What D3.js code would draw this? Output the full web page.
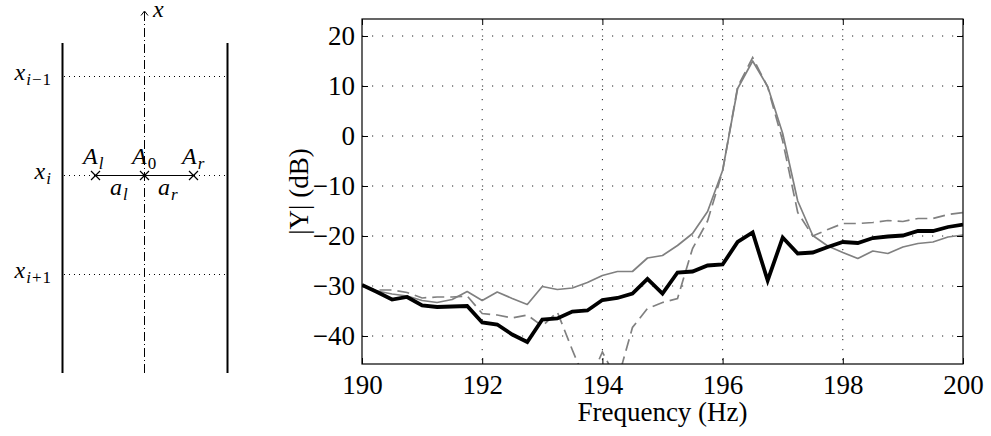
<!DOCTYPE html>
<html><head><meta charset="utf-8">
<script src="https://cdn.jsdelivr.net/npm/d3@7"></script>
<style>body{margin:0;background:#fff}svg{display:block}</style>
</head><body>
<svg id="c" width="991" height="436"></svg>
<script>
const freq = [190,190.25,190.5,190.75,191,191.25,191.5,191.75,192,192.25,192.5,192.75,193,193.25,193.5,193.75,194,194.25,194.5,194.75,195,195.25,195.5,195.75,196,196.25,196.5,196.75,197,197.25,197.5,197.75,198,198.25,198.5,198.75,199,199.25,199.5,199.75,200];
const seriesBlack = [-29.8,-31.2,-32.7,-32.2,-33.9,-34.2,-34.1,-34.0,-37.3,-37.7,-39.7,-41.2,-36.7,-36.5,-35.1,-34.9,-32.8,-32.4,-31.5,-28.6,-31.5,-27.3,-27.1,-25.9,-25.7,-21.2,-19.3,-28.9,-20.3,-23.5,-23.3,-22.2,-21.2,-21.4,-20.4,-20.1,-19.9,-19.0,-19.0,-18.2,-17.7];
const seriesGray = [-30.0,-31.0,-31.6,-32.0,-32.9,-33.3,-32.7,-31.1,-32.9,-31.2,-32.5,-33.7,-30.1,-30.7,-30.4,-29.3,-27.9,-27.1,-27.1,-24.4,-23.9,-21.9,-19.5,-15.1,-6.9,9.5,15.0,9.9,0.5,-13.0,-19.9,-22.0,-23.3,-24.5,-23.0,-23.5,-22.2,-21.5,-21.2,-20.2,-19.8];
const seriesDashed = [-30.0,-30.8,-30.8,-31.3,-32.4,-32.2,-32.2,-32.0,-35.5,-35.8,-36.4,-35.8,-38.0,-35.2,-42.8,-50,-43.2,-49,-38.3,-34.5,-33.3,-32.5,-22.5,-17,-7,9.8,15.7,9.8,-1,-15.3,-20,-18.7,-17.5,-17.5,-17.3,-16.9,-17.1,-16.5,-16.5,-15.7,-15.3];
const xTicks = [190,192,194,196,198,200];
const yTicks = [-40,-30,-20,-10,0,10,20];
const xLabel = "Frequency (Hz)";
const yLabel = "|Y| (dB)";

const svg = d3.select("#c");
const L = 362, R = 963, T = 19, B = 364;
const x = d3.scaleLinear().domain([190,200]).range([L,R]);
const y = d3.scaleLinear().domain([-45.6,23.4]).range([B,T]);
const font = "Liberation Serif";

// grid
const g = svg.append("g");
g.selectAll(".gx").data(xTicks.filter(d=>d>190&&d<200)).join("line")
  .attr("x1",d=>x(d)).attr("x2",d=>x(d)).attr("y1",T).attr("y2",B)
  .attr("stroke","#222").attr("stroke-width",1).attr("stroke-dasharray","1.2,8.8");
g.selectAll(".gy").data(yTicks).join("line")
  .attr("y1",d=>y(d)).attr("y2",d=>y(d)).attr("x1",L).attr("x2",R)
  .attr("stroke","#222").attr("stroke-width",1).attr("stroke-dasharray","1.2,8.8");

// clip
svg.append("clipPath").attr("id","clp").append("rect").attr("x",L).attr("y",T).attr("width",R-L).attr("height",B-T);
const line = d3.line().x((d,i)=>x(freq[i])).y(d=>y(d));
const pl = svg.append("g").attr("clip-path","url(#clp)");
pl.append("path").datum(seriesGray).attr("d",line).attr("fill","none").attr("stroke","#808080").attr("stroke-width",1.7).attr("stroke-linejoin","round");
pl.append("path").datum(seriesDashed).attr("d",line).attr("fill","none").attr("stroke","#808080").attr("stroke-width",1.7).attr("stroke-dasharray","12,6");
pl.append("path").datum(seriesBlack).attr("d",line).attr("fill","none").attr("stroke","#000").attr("stroke-width",3.8).attr("stroke-linejoin","miter");

// axes
const tl = 6;
const axB = svg.append("g").attr("transform",`translate(0,${B})`).call(d3.axisBottom(x).tickValues(xTicks).tickSize(-tl).tickPadding(13).tickFormat(d3.format("d")));
const axT = svg.append("g").attr("transform",`translate(0,${T})`).call(d3.axisTop(x).tickValues(xTicks).tickSize(-tl).tickFormat(""));
const axL = svg.append("g").attr("transform",`translate(${L},0)`).call(d3.axisLeft(y).tickValues(yTicks).tickSize(-tl).tickPadding(7).tickFormat(d=>d<0?"\u2212"+Math.abs(d):d));
const axR = svg.append("g").attr("transform",`translate(${R},0)`).call(d3.axisRight(y).tickValues(yTicks).tickSize(-tl).tickFormat(""));
[axB,axT,axL,axR].forEach(a=>{
  a.attr("font-family",font).attr("font-size",27);
  a.select(".domain").remove();
  a.selectAll("line").attr("stroke","#000").attr("stroke-width",1);
  a.selectAll("text").attr("font-family",font).attr("font-size",27).attr("fill","#000");
});
axB.selectAll("text").attr("dy",null).attr("y",30);
svg.append("rect").attr("x",L).attr("y",T).attr("width",R-L).attr("height",B-T).attr("fill","none").attr("stroke","#000").attr("stroke-width",1.2);

svg.append("text").attr("x",(L+R)/2).attr("y",421).attr("text-anchor","middle")
  .attr("font-family",font).attr("font-size",27).text(xLabel);
svg.append("text").attr("transform",`translate(308,${(T+B)/2}) rotate(-90)`).attr("text-anchor","middle")
  .attr("font-family",font).attr("font-size",27).text(yLabel);

// schematic
const s = svg.append("g");
const mf = font;
s.append("line").attr("x1",62.5).attr("x2",62.5).attr("y1",43).attr("y2",373).attr("stroke","#000").attr("stroke-width",2);
s.append("line").attr("x1",227.5).attr("x2",227.5).attr("y1",43).attr("y2",373).attr("stroke","#000").attr("stroke-width",2);
s.append("line").attr("x1",144.5).attr("x2",144.5).attr("y1",12).attr("y2",373).attr("stroke","#000").attr("stroke-width",1).attr("stroke-dasharray","9,3,1,3");
s.append("path").attr("d","M141,15.5 L144.5,11 L148,15.5").attr("fill","none").attr("stroke","#000").attr("stroke-width",1);
[76.5,175.5,274.5].forEach(yy=>{
  s.append("line").attr("x1",64).attr("x2",227).attr("y1",yy).attr("y2",yy).attr("stroke","#000").attr("stroke-width",1).attr("stroke-dasharray","1,4");
});
s.append("line").attr("x1",95.5).attr("x2",193.5).attr("y1",175.5).attr("y2",175.5).attr("stroke","#000").attr("stroke-width",1.2);
[95.5,144.5,193.5].forEach(cx=>{
  s.append("path").attr("d",`M${cx-4.5},${175.5-4.5} L${cx+4.5},${175.5+4.5} M${cx-4.5},${175.5+4.5} L${cx+4.5},${175.5-4.5}`).attr("stroke","#000").attr("stroke-width",1.2);
});
function mlabel(xx,yy,main,sub,anchor){
  const t = s.append("text").attr("x",xx).attr("y",yy).attr("font-family",mf).attr("font-size",24).attr("text-anchor",anchor||"start");
  t.append("tspan").attr("font-style","italic").text(main);
  if(sub){
    sub.forEach((p,i)=>{
      const ts = t.append("tspan").attr("font-size",17).attr("letter-spacing",1).text(p.t);
      if(p.i) ts.attr("font-style","italic");
      if(i===0) ts.attr("dy",5).attr("dx",1);
    });
  }
}
mlabel(153,17,"x");
mlabel(52,80,"x",[{t:"i",i:1},{t:"\u22121"}],"end");
mlabel(52,179,"x",[{t:"i",i:1}],"end");
mlabel(52,278,"x",[{t:"i",i:1},{t:"+1"}],"end");
mlabel(83,164,"A",[{t:"l",i:1}]);
mlabel(132,164,"A",[{t:"0"}]);
mlabel(182,164,"A",[{t:"r",i:1}]);
mlabel(110,195,"a",[{t:"l",i:1}]);
mlabel(158,195,"a",[{t:"r",i:1}]);
</script>
</body></html>
